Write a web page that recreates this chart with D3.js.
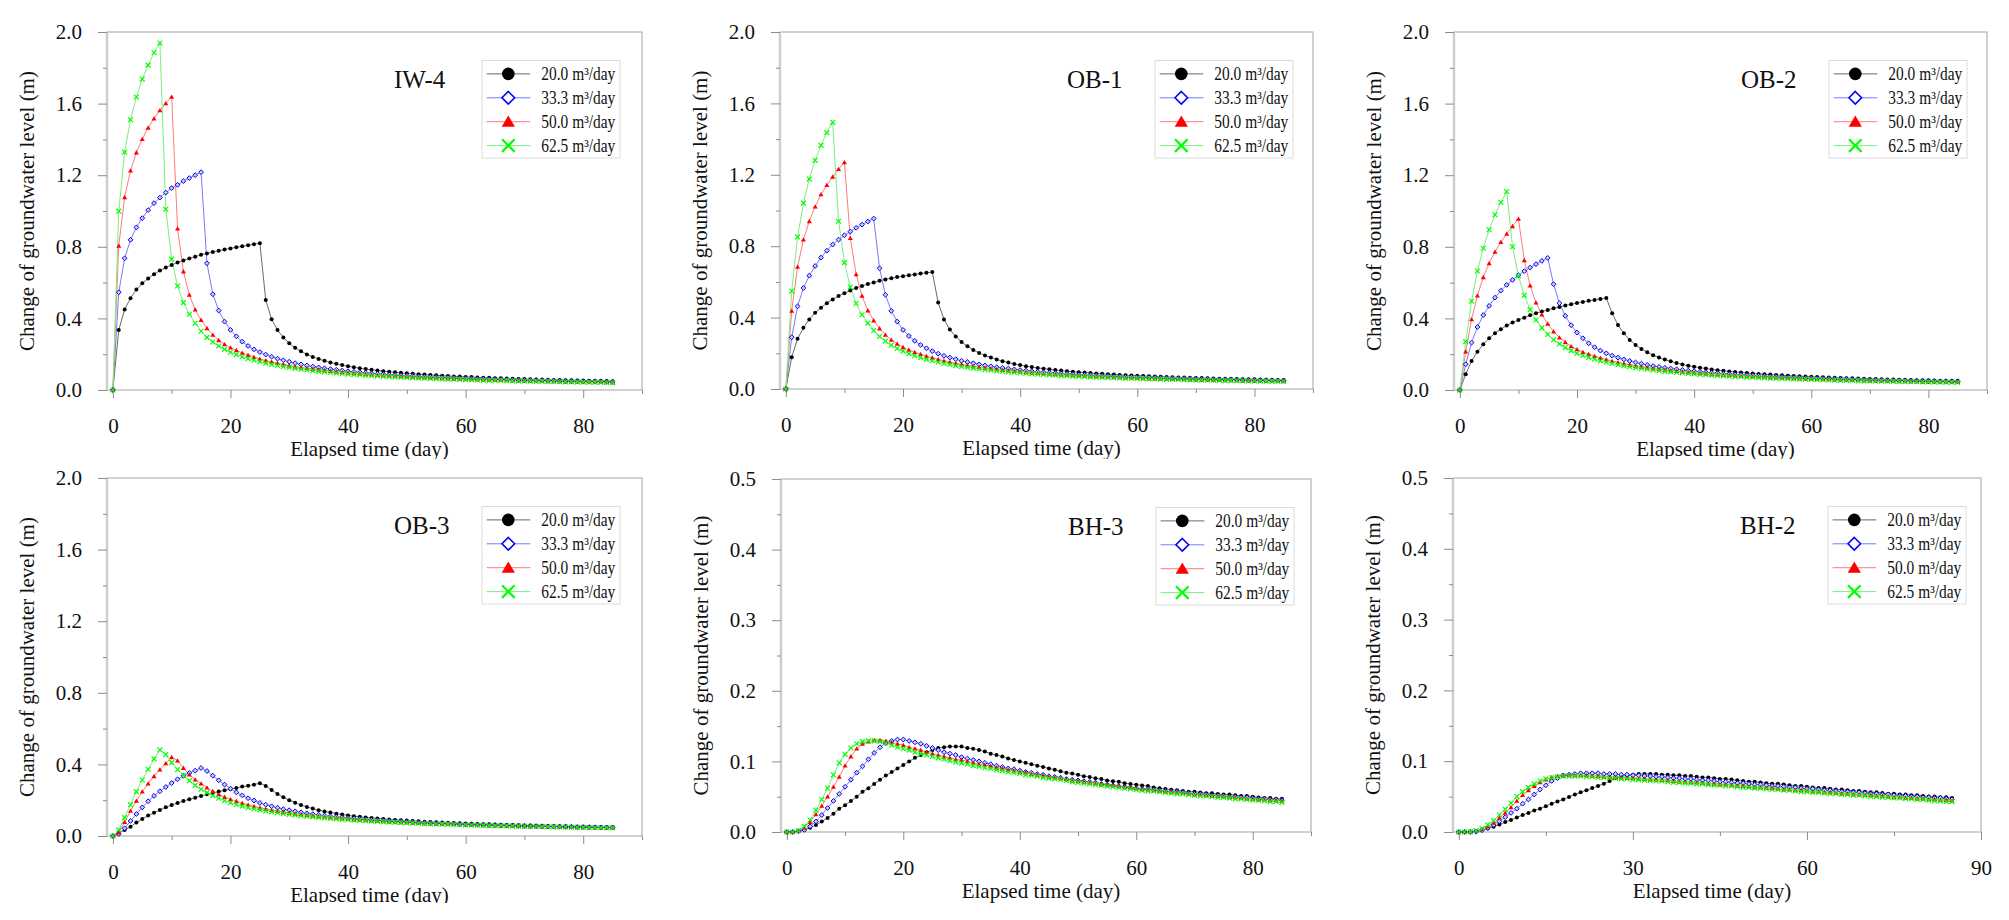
<!DOCTYPE html>
<html>
<head>
<meta charset="utf-8">
<script src="https://cdnjs.cloudflare.com/ajax/libs/d3/7.8.5/d3.min.js"></script>
<style>
  body { margin: 0; background: #fff; }
  svg { display: block; font-family: "Liberation Serif", "Times New Roman", serif; }
</style>
</head>
<body>
<svg id="chart"></svg>
<script>
// elapsed time (day), one reading per day
const days = [
  0, 1, 2, 3, 4, 5, 6, 7, 8, 9,
  10, 11, 12, 13, 14, 15, 16, 17, 18, 19,
  20, 21, 22, 23, 24, 25, 26, 27, 28, 29,
  30, 31, 32, 33, 34, 35, 36, 37, 38, 39,
  40, 41, 42, 43, 44, 45, 46, 47, 48, 49,
  50, 51, 52, 53, 54, 55, 56, 57, 58, 59,
  60, 61, 62, 63, 64, 65, 66, 67, 68, 69,
  70, 71, 72, 73, 74, 75, 76, 77, 78, 79,
  80, 81, 82, 83, 84, 85];

const legendLabels = ["20.0 m³/day", "33.3 m³/day", "50.0 m³/day", "62.5 m³/day"];
const wellNames = ["IW-4", "OB-1", "OB-2", "OB-3", "BH-3", "BH-2"];

const xTicks = [0, 20, 40, 60, 80];
const xMinor = [10, 30, 50, 70, 90];
const xTicks90 = [0, 30, 60, 90];
const xMinor90 = [15, 45, 75];
const yTicks2 = [0, 0.4, 0.8, 1.2, 1.6, 2.0];
const yMinor2 = [0.2, 0.6, 1.0, 1.4, 1.8];
const yTicks05 = [0, 0.1, 0.2, 0.3, 0.4, 0.5];
const yMinor05 = [0.05, 0.15, 0.25, 0.35, 0.45];

// ---- IW-4 ----
const iw4Q20 = [
  0, 0.335, 0.45, 0.513, 0.561, 0.596, 0.623, 0.647, 0.667, 0.684,
  0.699, 0.712, 0.724, 0.735, 0.745, 0.755, 0.763, 0.771, 0.778, 0.785,
  0.791, 0.797, 0.803, 0.809, 0.814, 0.82, 0.503, 0.395, 0.335, 0.293,
  0.261, 0.236, 0.216, 0.199, 0.185, 0.173, 0.163, 0.154, 0.146, 0.139,
  0.133, 0.127, 0.122, 0.117, 0.113, 0.109, 0.105, 0.102, 0.099, 0.096,
  0.093, 0.091, 0.088, 0.086, 0.084, 0.082, 0.080, 0.078, 0.076, 0.075,
  0.073, 0.072, 0.070, 0.069, 0.068, 0.066, 0.065, 0.064, 0.063, 0.062,
  0.061, 0.060, 0.059, 0.058, 0.057, 0.056, 0.056, 0.055, 0.054, 0.053,
  0.053, 0.052, 0.051, 0.051, 0.050, 0.049];
const iw4Q33 = [
  0, 0.546, 0.736, 0.839, 0.908, 0.96, 1.005, 1.044, 1.075, 1.103,
  1.128, 1.146, 1.167, 1.184, 1.2, 1.217, 0.708, 0.535, 0.444, 0.382,
  0.336, 0.30, 0.27, 0.246, 0.227, 0.212, 0.198, 0.186, 0.175, 0.166,
  0.158, 0.15, 0.143, 0.137, 0.131, 0.126, 0.121, 0.117, 0.113, 0.109,
  0.105, 0.102, 0.099, 0.096, 0.093, 0.091, 0.088, 0.086, 0.084, 0.082,
  0.080, 0.078, 0.076, 0.075, 0.073, 0.072, 0.070, 0.069, 0.068, 0.066,
  0.065, 0.064, 0.063, 0.062, 0.061, 0.060, 0.059, 0.058, 0.057, 0.056,
  0.055, 0.055, 0.054, 0.053, 0.052, 0.052, 0.051, 0.050, 0.050, 0.049,
  0.048, 0.048, 0.047, 0.047, 0.046, 0.046];
const iw4Q50 = [
  0, 0.805, 1.077, 1.226, 1.327, 1.402, 1.465, 1.517, 1.562, 1.601,
  1.638, 0.902, 0.662, 0.531, 0.449, 0.391, 0.345, 0.308, 0.278, 0.255,
  0.237, 0.222, 0.207, 0.195, 0.184, 0.174, 0.165, 0.157, 0.150, 0.143,
  0.137, 0.131, 0.126, 0.121, 0.117, 0.113, 0.109, 0.105, 0.102, 0.099,
  0.096, 0.093, 0.090, 0.088, 0.086, 0.083, 0.081, 0.079, 0.077, 0.076,
  0.074, 0.072, 0.071, 0.069, 0.068, 0.067, 0.065, 0.064, 0.063, 0.062,
  0.061, 0.060, 0.059, 0.058, 0.057, 0.056, 0.055, 0.054, 0.054, 0.053,
  0.052, 0.051, 0.051, 0.050, 0.049, 0.049, 0.048, 0.047, 0.047, 0.046,
  0.046, 0.045, 0.045, 0.044, 0.044, 0.043];
const iw4Q62 = [
  0, 0.999, 1.329, 1.51, 1.637, 1.737, 1.815, 1.884, 1.938, 1.01,
  0.731, 0.581, 0.488, 0.423, 0.373, 0.328, 0.294, 0.268, 0.246, 0.227,
  0.211, 0.198, 0.186, 0.175, 0.166, 0.158, 0.150, 0.143, 0.137, 0.131,
  0.126, 0.121, 0.116, 0.112, 0.108, 0.104, 0.101, 0.098, 0.095, 0.092,
  0.089, 0.087, 0.085, 0.082, 0.080, 0.078, 0.076, 0.075, 0.073, 0.071,
  0.070, 0.068, 0.067, 0.066, 0.064, 0.063, 0.062, 0.061, 0.060, 0.059,
  0.058, 0.057, 0.056, 0.055, 0.054, 0.053, 0.053, 0.052, 0.051, 0.050,
  0.050, 0.049, 0.048, 0.048, 0.047, 0.047, 0.046, 0.045, 0.045, 0.044,
  0.044, 0.043, 0.043, 0.042, 0.042, 0.041];

// ---- OB-1 ----
const ob1Q20 = [
  0, 0.178, 0.281, 0.343, 0.39, 0.427, 0.455, 0.481, 0.502, 0.521,
  0.537, 0.552, 0.566, 0.577, 0.588, 0.597, 0.606, 0.614, 0.621, 0.627,
  0.632, 0.637, 0.642, 0.647, 0.651, 0.655, 0.485, 0.39, 0.333, 0.294,
  0.264, 0.24, 0.219, 0.202, 0.188, 0.176, 0.165, 0.156, 0.148, 0.140,
  0.134, 0.128, 0.123, 0.118, 0.114, 0.110, 0.106, 0.103, 0.100, 0.097,
  0.094, 0.092, 0.089, 0.087, 0.085, 0.083, 0.081, 0.079, 0.077, 0.076,
  0.074, 0.073, 0.071, 0.070, 0.069, 0.067, 0.066, 0.065, 0.064, 0.063,
  0.062, 0.061, 0.060, 0.059, 0.058, 0.057, 0.057, 0.056, 0.055, 0.054,
  0.054, 0.053, 0.052, 0.052, 0.051, 0.050];
const ob1Q33 = [
  0, 0.29, 0.463, 0.566, 0.635, 0.689, 0.736, 0.775, 0.809, 0.837,
  0.861, 0.882, 0.903, 0.921, 0.938, 0.955, 0.676, 0.528, 0.438, 0.378,
  0.331, 0.297, 0.27, 0.247, 0.228, 0.212, 0.198, 0.186, 0.176, 0.167,
  0.158, 0.151, 0.144, 0.138, 0.132, 0.127, 0.122, 0.118, 0.114, 0.110,
  0.106, 0.103, 0.100, 0.097, 0.094, 0.092, 0.089, 0.087, 0.085, 0.083,
  0.081, 0.079, 0.077, 0.076, 0.074, 0.073, 0.071, 0.070, 0.068, 0.067,
  0.066, 0.065, 0.064, 0.063, 0.062, 0.061, 0.060, 0.059, 0.058, 0.057,
  0.056, 0.055, 0.055, 0.054, 0.053, 0.052, 0.052, 0.051, 0.050, 0.050,
  0.049, 0.049, 0.048, 0.047, 0.047, 0.046];
const ob1Q50 = [
  0, 0.438, 0.684, 0.837, 0.94, 1.022, 1.09, 1.142, 1.189, 1.232,
  1.27, 0.845, 0.642, 0.522, 0.44, 0.384, 0.339, 0.303, 0.275, 0.253,
  0.234, 0.219, 0.206, 0.195, 0.184, 0.175, 0.166, 0.158, 0.151, 0.144,
  0.138, 0.132, 0.127, 0.122, 0.118, 0.114, 0.110, 0.106, 0.103, 0.100,
  0.097, 0.094, 0.091, 0.089, 0.086, 0.084, 0.082, 0.080, 0.078, 0.076,
  0.075, 0.073, 0.071, 0.070, 0.069, 0.067, 0.066, 0.065, 0.064, 0.062,
  0.061, 0.060, 0.059, 0.058, 0.057, 0.057, 0.056, 0.055, 0.054, 0.053,
  0.053, 0.052, 0.051, 0.051, 0.050, 0.049, 0.049, 0.048, 0.047, 0.047,
  0.046, 0.046, 0.045, 0.045, 0.044, 0.044];
const ob1Q62 = [
  0, 0.549, 0.852, 1.041, 1.176, 1.281, 1.365, 1.436, 1.494, 0.94,
  0.708, 0.571, 0.479, 0.416, 0.369, 0.328, 0.294, 0.268, 0.245, 0.227,
  0.212, 0.198, 0.186, 0.176, 0.166, 0.158, 0.150, 0.143, 0.137, 0.131,
  0.126, 0.121, 0.117, 0.112, 0.108, 0.105, 0.101, 0.098, 0.095, 0.093,
  0.090, 0.088, 0.085, 0.083, 0.081, 0.079, 0.077, 0.075, 0.074, 0.072,
  0.071, 0.069, 0.068, 0.066, 0.065, 0.064, 0.063, 0.062, 0.061, 0.060,
  0.059, 0.058, 0.057, 0.056, 0.055, 0.054, 0.053, 0.053, 0.052, 0.051,
  0.050, 0.050, 0.049, 0.049, 0.048, 0.047, 0.047, 0.046, 0.046, 0.045,
  0.045, 0.044, 0.044, 0.043, 0.043, 0.042];

// ---- OB-2 ----
const ob2Q20 = [
  0, 0.088, 0.162, 0.214, 0.255, 0.289, 0.317, 0.339, 0.36, 0.377,
  0.391, 0.404, 0.418, 0.429, 0.438, 0.447, 0.457, 0.464, 0.472, 0.479,
  0.486, 0.492, 0.498, 0.503, 0.509, 0.514, 0.429, 0.363, 0.317, 0.28,
  0.252, 0.229, 0.211, 0.194, 0.181, 0.170, 0.160, 0.151, 0.143, 0.136,
  0.130, 0.125, 0.120, 0.115, 0.111, 0.107, 0.104, 0.101, 0.098, 0.095,
  0.092, 0.090, 0.088, 0.086, 0.084, 0.082, 0.080, 0.078, 0.077, 0.075,
  0.074, 0.072, 0.071, 0.070, 0.068, 0.067, 0.066, 0.065, 0.064, 0.063,
  0.062, 0.061, 0.060, 0.059, 0.058, 0.057, 0.057, 0.056, 0.055, 0.054,
  0.054, 0.053, 0.052, 0.052, 0.051, 0.051];
const ob2Q33 = [
  0, 0.144, 0.265, 0.352, 0.419, 0.47, 0.516, 0.555, 0.587, 0.615,
  0.641, 0.664, 0.684, 0.703, 0.721, 0.738, 0.591, 0.485, 0.414, 0.362,
  0.321, 0.289, 0.261, 0.239, 0.22, 0.205, 0.192, 0.181, 0.171, 0.162,
  0.154, 0.147, 0.140, 0.134, 0.129, 0.124, 0.120, 0.116, 0.112, 0.108,
  0.105, 0.102, 0.099, 0.096, 0.094, 0.091, 0.089, 0.087, 0.085, 0.083,
  0.081, 0.079, 0.077, 0.076, 0.074, 0.073, 0.071, 0.070, 0.069, 0.067,
  0.066, 0.065, 0.064, 0.063, 0.062, 0.061, 0.060, 0.059, 0.058, 0.057,
  0.056, 0.056, 0.055, 0.054, 0.053, 0.053, 0.052, 0.051, 0.051, 0.050,
  0.049, 0.049, 0.048, 0.048, 0.047, 0.047];
const ob2Q50 = [
  0, 0.214, 0.395, 0.527, 0.63, 0.708, 0.772, 0.826, 0.872, 0.915,
  0.956, 0.725, 0.583, 0.488, 0.421, 0.369, 0.326, 0.293, 0.267, 0.244,
  0.227, 0.212, 0.200, 0.189, 0.179, 0.170, 0.161, 0.154, 0.147, 0.141,
  0.135, 0.130, 0.125, 0.120, 0.116, 0.112, 0.108, 0.105, 0.102, 0.099,
  0.096, 0.093, 0.091, 0.088, 0.086, 0.084, 0.082, 0.080, 0.078, 0.076,
  0.075, 0.073, 0.072, 0.070, 0.069, 0.068, 0.066, 0.065, 0.064, 0.063,
  0.062, 0.061, 0.060, 0.059, 0.058, 0.057, 0.056, 0.055, 0.054, 0.054,
  0.053, 0.052, 0.051, 0.051, 0.050, 0.049, 0.049, 0.048, 0.048, 0.047,
  0.046, 0.046, 0.045, 0.045, 0.044, 0.044];
const ob2Q62 = [
  0, 0.27, 0.496, 0.665, 0.792, 0.895, 0.979, 1.049, 1.109, 0.80,
  0.637, 0.529, 0.449, 0.391, 0.347, 0.311, 0.281, 0.257, 0.237, 0.22,
  0.205, 0.193, 0.182, 0.172, 0.163, 0.155, 0.148, 0.141, 0.135, 0.130,
  0.125, 0.120, 0.116, 0.112, 0.108, 0.104, 0.101, 0.098, 0.095, 0.092,
  0.090, 0.087, 0.085, 0.083, 0.081, 0.079, 0.077, 0.075, 0.074, 0.072,
  0.071, 0.069, 0.068, 0.066, 0.065, 0.064, 0.063, 0.062, 0.061, 0.060,
  0.059, 0.058, 0.057, 0.056, 0.055, 0.054, 0.053, 0.053, 0.052, 0.051,
  0.050, 0.050, 0.049, 0.049, 0.048, 0.047, 0.047, 0.046, 0.046, 0.045,
  0.045, 0.044, 0.044, 0.043, 0.043, 0.042];

// ---- OB-3 ----
const ob3Q20 = [
  0, 0.015, 0.034, 0.052, 0.075, 0.095, 0.114, 0.130, 0.145, 0.160,
  0.173, 0.185, 0.196, 0.205, 0.214, 0.224, 0.233, 0.240, 0.248, 0.255,
  0.263, 0.268, 0.276, 0.281, 0.287, 0.295, 0.28, 0.257, 0.235, 0.216,
  0.20, 0.186, 0.173, 0.162, 0.153, 0.144, 0.137, 0.131, 0.125, 0.120,
  0.115, 0.111, 0.107, 0.104, 0.101, 0.098, 0.095, 0.092, 0.090, 0.088,
  0.086, 0.084, 0.082, 0.080, 0.078, 0.077, 0.075, 0.074, 0.072, 0.071,
  0.070, 0.068, 0.067, 0.066, 0.065, 0.064, 0.063, 0.062, 0.061, 0.060,
  0.059, 0.058, 0.057, 0.057, 0.056, 0.055, 0.054, 0.054, 0.053, 0.052,
  0.052, 0.051, 0.050, 0.050, 0.049, 0.049];
const ob3Q33 = [
  0, 0.011, 0.043, 0.084, 0.123, 0.160, 0.194, 0.224, 0.25, 0.274,
  0.296, 0.317, 0.336, 0.352, 0.365, 0.38, 0.363, 0.337, 0.311, 0.287,
  0.265, 0.244, 0.227, 0.211, 0.198, 0.185, 0.175, 0.166, 0.158, 0.150,
  0.144, 0.138, 0.132, 0.127, 0.122, 0.118, 0.114, 0.110, 0.107, 0.104,
  0.101, 0.098, 0.095, 0.093, 0.090, 0.088, 0.086, 0.084, 0.082, 0.080,
  0.079, 0.077, 0.075, 0.074, 0.073, 0.071, 0.070, 0.069, 0.068, 0.066,
  0.065, 0.064, 0.063, 0.062, 0.061, 0.060, 0.059, 0.059, 0.058, 0.057,
  0.056, 0.055, 0.055, 0.054, 0.053, 0.053, 0.052, 0.051, 0.051, 0.050,
  0.050, 0.049, 0.049, 0.048, 0.048, 0.047];
const ob3Q50 = [
  0, 0.019, 0.078, 0.14, 0.196, 0.248, 0.293, 0.334, 0.371, 0.406,
  0.44, 0.421, 0.38, 0.343, 0.315, 0.293, 0.27, 0.25, 0.233, 0.218,
  0.205, 0.194, 0.183, 0.174, 0.166, 0.158, 0.151, 0.145, 0.139, 0.134,
  0.129, 0.124, 0.120, 0.116, 0.112, 0.109, 0.106, 0.103, 0.100, 0.097,
  0.095, 0.092, 0.090, 0.088, 0.086, 0.084, 0.082, 0.080, 0.079, 0.077,
  0.076, 0.074, 0.073, 0.071, 0.070, 0.069, 0.068, 0.067, 0.066, 0.065,
  0.064, 0.063, 0.062, 0.061, 0.060, 0.059, 0.058, 0.057, 0.057, 0.056,
  0.055, 0.054, 0.054, 0.053, 0.052, 0.052, 0.051, 0.050, 0.050, 0.049,
  0.049, 0.048, 0.048, 0.047, 0.047, 0.046];
const ob3Q62 = [
  0, 0.034, 0.103, 0.175, 0.248, 0.313, 0.373, 0.431, 0.481, 0.455,
  0.41, 0.371, 0.339, 0.309, 0.283, 0.261, 0.242, 0.226, 0.211, 0.198,
  0.186, 0.176, 0.167, 0.159, 0.152, 0.146, 0.140, 0.135, 0.130, 0.125,
  0.121, 0.117, 0.113, 0.110, 0.107, 0.104, 0.101, 0.098, 0.096, 0.093,
  0.091, 0.089, 0.087, 0.085, 0.083, 0.081, 0.079, 0.078, 0.076, 0.075,
  0.073, 0.072, 0.071, 0.069, 0.068, 0.067, 0.066, 0.065, 0.064, 0.063,
  0.062, 0.061, 0.060, 0.059, 0.058, 0.058, 0.057, 0.056, 0.055, 0.055,
  0.054, 0.053, 0.053, 0.052, 0.051, 0.051, 0.050, 0.050, 0.049, 0.048,
  0.048, 0.047, 0.047, 0.046, 0.046, 0.045];

// ---- BH-3 ----
const bh3Q20 = [
  0, 0, 0.0015, 0.003, 0.006, 0.010, 0.015, 0.020, 0.026, 0.033,
  0.038, 0.044, 0.050, 0.057, 0.062, 0.068, 0.074, 0.080, 0.085, 0.090,
  0.095, 0.100, 0.105, 0.109, 0.113, 0.116, 0.119, 0.120, 0.121, 0.121,
  0.121, 0.119, 0.118, 0.116, 0.114, 0.111, 0.109, 0.107, 0.104, 0.102,
  0.100, 0.098, 0.096, 0.094, 0.092, 0.090, 0.088, 0.086, 0.084, 0.083,
  0.081, 0.079, 0.078, 0.076, 0.075, 0.073, 0.072, 0.071, 0.069, 0.068,
  0.067, 0.066, 0.065, 0.063, 0.062, 0.061, 0.060, 0.059, 0.058, 0.057,
  0.057, 0.056, 0.055, 0.055, 0.054, 0.053, 0.053, 0.052, 0.051, 0.051,
  0.050, 0.049, 0.048, 0.048, 0.047, 0.047];
const bh3Q33 = [
  0, 0, 0.001, 0.003, 0.008, 0.015, 0.024, 0.034, 0.044, 0.054,
  0.064, 0.074, 0.084, 0.093, 0.103, 0.112, 0.120, 0.126, 0.129, 0.131,
  0.131, 0.129, 0.127, 0.125, 0.122, 0.119, 0.116, 0.113, 0.111, 0.109,
  0.106, 0.104, 0.102, 0.100, 0.098, 0.096, 0.094, 0.092, 0.090, 0.089,
  0.087, 0.085, 0.084, 0.082, 0.081, 0.079, 0.078, 0.077, 0.075, 0.074,
  0.073, 0.072, 0.071, 0.070, 0.068, 0.067, 0.066, 0.065, 0.064, 0.063,
  0.062, 0.061, 0.061, 0.060, 0.059, 0.058, 0.057, 0.057, 0.056, 0.055,
  0.054, 0.054, 0.053, 0.052, 0.052, 0.051, 0.050, 0.050, 0.049, 0.049,
  0.048, 0.047, 0.047, 0.046, 0.046, 0.045];
const bh3Q50 = [
  0, 0, 0.002, 0.006, 0.014, 0.025, 0.037, 0.050, 0.064, 0.078,
  0.094, 0.107, 0.118, 0.125, 0.128, 0.130, 0.130, 0.129, 0.127, 0.125,
  0.123, 0.120, 0.118, 0.116, 0.113, 0.111, 0.109, 0.107, 0.105, 0.103,
  0.102, 0.100, 0.098, 0.096, 0.095, 0.093, 0.091, 0.090, 0.088, 0.087,
  0.085, 0.084, 0.082, 0.081, 0.080, 0.078, 0.077, 0.076, 0.075, 0.073,
  0.072, 0.071, 0.070, 0.069, 0.068, 0.067, 0.066, 0.065, 0.064, 0.063,
  0.062, 0.061, 0.060, 0.059, 0.058, 0.057, 0.057, 0.056, 0.055, 0.054,
  0.053, 0.053, 0.052, 0.051, 0.051, 0.050, 0.049, 0.049, 0.048, 0.047,
  0.047, 0.046, 0.046, 0.045, 0.045, 0.044];
const bh3Q62 = [
  0, 0, 0.002, 0.008, 0.017, 0.031, 0.046, 0.062, 0.081, 0.098,
  0.110, 0.119, 0.125, 0.128, 0.129, 0.129, 0.128, 0.126, 0.123, 0.120,
  0.118, 0.116, 0.113, 0.111, 0.109, 0.107, 0.105, 0.103, 0.101, 0.099,
  0.098, 0.096, 0.094, 0.093, 0.091, 0.090, 0.088, 0.087, 0.085, 0.084,
  0.083, 0.081, 0.080, 0.079, 0.077, 0.076, 0.075, 0.074, 0.073, 0.071,
  0.070, 0.069, 0.068, 0.067, 0.066, 0.065, 0.064, 0.063, 0.062, 0.061,
  0.060, 0.059, 0.058, 0.058, 0.057, 0.056, 0.055, 0.054, 0.054, 0.053,
  0.052, 0.051, 0.051, 0.050, 0.049, 0.049, 0.048, 0.047, 0.047, 0.046,
  0.045, 0.045, 0.044, 0.043, 0.043, 0.042];

// ---- BH-2 ----
const bh2Q20 = [
  0, 0, 0, 0.001, 0.0025, 0.005, 0.0075, 0.0105, 0.014, 0.017,
  0.0205, 0.024, 0.027, 0.0305, 0.033, 0.0365, 0.040, 0.043, 0.046, 0.0495,
  0.053, 0.056, 0.059, 0.062, 0.065, 0.068, 0.072, 0.076, 0.079, 0.080,
  0.081, 0.082, 0.082, 0.082, 0.082, 0.081, 0.081, 0.080, 0.080, 0.079,
  0.079, 0.078, 0.077, 0.077, 0.076, 0.075, 0.075, 0.074, 0.073, 0.072,
  0.071, 0.071, 0.070, 0.069, 0.068, 0.068, 0.067, 0.066, 0.065, 0.065,
  0.064, 0.063, 0.062, 0.062, 0.061, 0.060, 0.060, 0.059, 0.058, 0.058,
  0.057, 0.056, 0.056, 0.055, 0.054, 0.054, 0.053, 0.053, 0.052, 0.052,
  0.051, 0.050, 0.050, 0.049, 0.049, 0.048];
const bh2Q33 = [
  0, 0, 0, 0.0005, 0.0025, 0.006, 0.010, 0.015, 0.021, 0.027,
  0.033, 0.040, 0.046, 0.053, 0.060, 0.066, 0.072, 0.076, 0.080, 0.081,
  0.082, 0.083, 0.083, 0.083, 0.083, 0.082, 0.082, 0.082, 0.081, 0.081,
  0.080, 0.080, 0.079, 0.079, 0.078, 0.078, 0.077, 0.076, 0.076, 0.075,
  0.075, 0.074, 0.073, 0.073, 0.072, 0.071, 0.071, 0.070, 0.069, 0.069,
  0.068, 0.067, 0.067, 0.066, 0.065, 0.065, 0.064, 0.063, 0.063, 0.062,
  0.061, 0.061, 0.060, 0.059, 0.059, 0.058, 0.057, 0.057, 0.056, 0.056,
  0.055, 0.054, 0.054, 0.053, 0.053, 0.052, 0.051, 0.051, 0.050, 0.050,
  0.049, 0.049, 0.048, 0.048, 0.047, 0.046];
const bh2Q50 = [
  0, 0, 0.0005, 0.0015, 0.004, 0.008, 0.013, 0.020, 0.027, 0.035,
  0.044, 0.052, 0.059, 0.065, 0.070, 0.074, 0.077, 0.079, 0.080, 0.080,
  0.080, 0.080, 0.080, 0.079, 0.079, 0.078, 0.078, 0.077, 0.077, 0.076,
  0.076, 0.075, 0.075, 0.074, 0.074, 0.073, 0.073, 0.072, 0.071, 0.071,
  0.070, 0.070, 0.069, 0.068, 0.068, 0.067, 0.067, 0.066, 0.065, 0.065,
  0.064, 0.063, 0.063, 0.062, 0.062, 0.061, 0.060, 0.060, 0.059, 0.059,
  0.058, 0.057, 0.057, 0.056, 0.056, 0.055, 0.054, 0.054, 0.053, 0.053,
  0.052, 0.052, 0.051, 0.051, 0.050, 0.049, 0.049, 0.048, 0.048, 0.047,
  0.047, 0.046, 0.046, 0.045, 0.045, 0.044];
const bh2Q62 = [
  0, 0, 0.0005, 0.002, 0.005, 0.010, 0.016, 0.024, 0.032, 0.041,
  0.050, 0.057, 0.063, 0.068, 0.072, 0.075, 0.077, 0.078, 0.079, 0.079,
  0.079, 0.079, 0.078, 0.078, 0.077, 0.077, 0.076, 0.076, 0.075, 0.075,
  0.074, 0.074, 0.073, 0.073, 0.072, 0.072, 0.071, 0.070, 0.070, 0.069,
  0.069, 0.068, 0.068, 0.067, 0.066, 0.066, 0.065, 0.065, 0.064, 0.063,
  0.063, 0.062, 0.062, 0.061, 0.060, 0.060, 0.059, 0.059, 0.058, 0.057,
  0.057, 0.056, 0.056, 0.055, 0.054, 0.054, 0.053, 0.053, 0.052, 0.052,
  0.051, 0.050, 0.050, 0.049, 0.049, 0.048, 0.048, 0.047, 0.047, 0.046,
  0.046, 0.045, 0.044, 0.044, 0.043, 0.043];

// layout of the six panels (frame box in page pixels)
const panels = [
  {name: wellNames[0], series: [iw4Q20, iw4Q33, iw4Q50, iw4Q62], yMax: 2.0, yTicks: yTicks2, yMinor: yMinor2, xTicks: xTicks, xMinor: xMinor,
   left: 107, top: 32, w: 535, h: 358, clipY: 459},
  {name: wellNames[1], series: [ob1Q20, ob1Q33, ob1Q50, ob1Q62], yMax: 2.0, yTicks: yTicks2, yMinor: yMinor2, xTicks: xTicks, xMinor: xMinor,
   left: 780, top: 32, w: 533, h: 357, clipY: 459},
  {name: wellNames[2], series: [ob2Q20, ob2Q33, ob2Q50, ob2Q62], yMax: 2.0, yTicks: yTicks2, yMinor: yMinor2, xTicks: xTicks, xMinor: xMinor,
   left: 1454, top: 32, w: 533, h: 358, clipY: 459},
  {name: wellNames[3], series: [ob3Q20, ob3Q33, ob3Q50, ob3Q62], yMax: 2.0, yTicks: yTicks2, yMinor: yMinor2, xTicks: xTicks, xMinor: xMinor,
   left: 107, top: 478, w: 535, h: 358, clipY: 903},
  {name: wellNames[4], series: [bh3Q20, bh3Q33, bh3Q50, bh3Q62], yMax: 0.5, yTicks: yTicks05, yMinor: yMinor05, xTicks: xTicks, xMinor: xMinor,
   left: 781, top: 479, w: 530, h: 353, clipY: 920},
  {name: wellNames[5], series: [bh2Q20, bh2Q33, bh2Q50, bh2Q62], yMax: 0.5, yTicks: yTicks05, yMinor: yMinor05, xTicks: xTicks90, xMinor: xMinor90,
   left: 1453, top: 478, w: 528, h: 354, clipY: 920}
];

const markColors = ["#000000", "#0000ff", "#ff0000", "#00ff00"];
const lineColors = ["#6a6a6a", "#7878ff", "#ff7a7a", "#7af07a"];

const svg = d3.select("#chart")
  .attr("width", 2009)
  .attr("height", 920);

svg.append("rect").attr("width", 2009).attr("height", 920).attr("fill", "#fff");

// marker paths, size = half width
function markerPath(k, s) {
  if (k === 0) return d3.symbol(d3.symbolCircle, Math.PI * s * s)();
  if (k === 1) return `M0,${-s}L${s},0L0,${s}L${-s},0Z`;
  if (k === 2) return `M0,${-s}L${s * 1.05},${s * 0.8}L${-s * 1.05},${s * 0.8}Z`;
  return `M${-s},${-s}L${s},${s}M${s},${-s}L${-s},${s}`;
}

function styleMarker(sel, k, big) {
  if (k === 0 || k === 2) {
    sel.attr("fill", markColors[k]).attr("stroke", "none");
  } else if (k === 1) {
    sel.attr("fill", big ? "#fff" : "#ccd").attr("stroke", markColors[k]).attr("stroke-width", big ? 1.6 : 1);
  } else {
    sel.attr("fill", "none").attr("stroke", markColors[k]).attr("stroke-width", big ? 2.2 : 1.2);
  }
}

panels.forEach((p, pi) => {
  const clipId = "clip" + pi;
  svg.append("clipPath").attr("id", clipId)
    .append("rect").attr("x", 0).attr("y", 0).attr("width", 2009).attr("height", p.clipY);

  const g = svg.append("g").attr("clip-path", `url(#${clipId})`);

  const x = d3.scaleLinear().domain([-1, 90]).range([p.left, p.left + p.w]);
  const y = d3.scaleLinear().domain([0, p.yMax]).range([p.top + p.h, p.top]);

  // frame
  g.append("rect")
    .attr("x", p.left).attr("y", p.top).attr("width", p.w).attr("height", p.h)
    .attr("fill", "none").attr("stroke", "#a3a3a3").attr("stroke-width", 1);
  g.append("line")
    .attr("x1", p.left).attr("x2", p.left).attr("y1", p.top).attr("y2", p.top + p.h)
    .attr("stroke", "#cdcdcd").attr("stroke-width", 2.5);

  // axes
  const yAxis = d3.axisLeft(y).tickValues(p.yTicks).tickSize(9).tickPadding(16).tickFormat(d3.format(".1f"));
  const yAxisMinor = d3.axisLeft(y).tickValues(p.yMinor).tickSize(4).tickFormat("");
  const xAxis = d3.axisBottom(x).tickValues(p.xTicks).tickSize(8).tickPadding(20).tickFormat(d3.format("d"));
  const xAxisMinor = d3.axisBottom(x).tickValues(p.xMinor).tickSize(4).tickFormat("");

  const axes = [
    g.append("g").attr("transform", `translate(${p.left},0)`).call(yAxis),
    g.append("g").attr("transform", `translate(${p.left},0)`).call(yAxisMinor),
    g.append("g").attr("transform", `translate(0,${p.top + p.h})`).call(xAxis),
    g.append("g").attr("transform", `translate(0,${p.top + p.h})`).call(xAxisMinor)
  ];
  axes.forEach(a => {
    a.select(".domain").remove();
    a.selectAll("line").attr("stroke", "#8c8c8c");
    a.selectAll("text")
      .attr("font-family", "'Liberation Serif', 'Times New Roman', serif")
      .attr("font-size", 21).attr("fill", "#111");
    a.attr("font-family", null).attr("font-size", null);
  });

  // series lines then markers
  const line = d3.line().x((d, i) => x(days[i])).y(d => y(d));
  p.series.forEach((vals, k) => {
    g.append("path").datum(vals)
      .attr("d", line)
      .attr("fill", "none")
      .attr("stroke", lineColors[k])
      .attr("stroke-width", 1);
  });
  p.series.forEach((vals, k) => {
    const m = g.append("g").selectAll("path").data(vals).join("path")
      .attr("transform", (d, i) => `translate(${x(days[i])},${y(d)})`)
      .attr("d", markerPath(k, k === 0 ? 2 : 2.4));
    styleMarker(m, k, false);
  });

  // well name
  g.append("text")
    .attr("x", p.left + 287).attr("y", p.top + 56)
    .attr("font-size", 25).attr("fill", "#111")
    .text(p.name);

  // legend
  const lx = p.left + 375, ly = p.top + 28.5;
  const lg = g.append("g").attr("transform", `translate(${lx},${ly})`);
  lg.append("rect").attr("width", 138).attr("height", 97.5)
    .attr("fill", "#fff").attr("stroke", "#dcdcdc").attr("stroke-width", 1);
  legendLabels.forEach((lab, k) => {
    const ry = 13.4 + k * 23.9;
    lg.append("line").attr("x1", 4.6).attr("x2", 48.3).attr("y1", ry).attr("y2", ry)
      .attr("stroke", lineColors[k]).attr("stroke-width", 1);
    const sm = lg.append("path")
      .attr("transform", `translate(26.3,${ry})`)
      .attr("d", markerPath(k, k === 0 ? 6.3 : 6.3));
    styleMarker(sm, k, true);
    lg.append("text")
      .attr("x", 59.3).attr("y", ry + 6)
      .attr("font-size", 18).attr("fill", "#111")
      .attr("textLength", 74).attr("lengthAdjust", "spacingAndGlyphs")
      .text(lab);
  });

  // axis titles
  g.append("text")
    .attr("text-anchor", "middle")
    .attr("x", p.left + p.w / 2 - 5).attr("y", p.top + p.h + 66)
    .attr("font-size", 21).attr("fill", "#111")
    .text("Elapsed time (day)");
  g.append("text")
    .attr("text-anchor", "middle")
    .attr("transform", `translate(${p.left - 73},${p.top + p.h / 2}) rotate(-90)`)
    .attr("font-size", 21).attr("fill", "#111")
    .text("Change of groundwater level (m)");
});
</script>
</body>
</html>
